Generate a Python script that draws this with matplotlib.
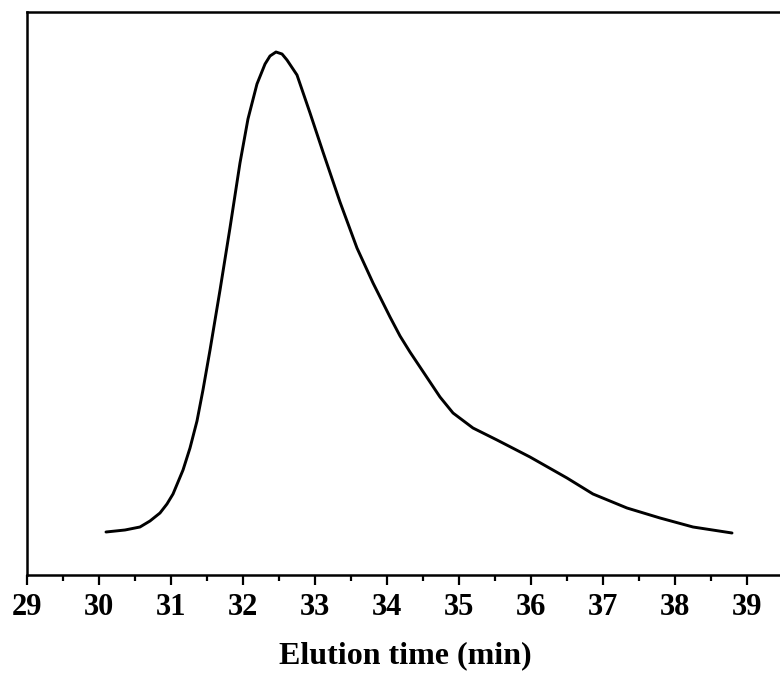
import matplotlib
matplotlib.use("Agg")
import matplotlib.pyplot as plt
from matplotlib.ticker import MultipleLocator

# Elution time (min) and detector response (arbitrary units)
time_min = [30.097, 30.361, 30.569, 30.708, 30.847, 30.944, 31.028, 31.167,
            31.264, 31.361, 31.444, 31.542, 31.681, 31.819, 31.958, 32.069,
            32.194, 32.306, 32.375, 32.458, 32.542, 32.611, 32.750, 32.931,
            33.111, 33.347, 33.583, 33.806, 34.042, 34.181, 34.319, 34.458,
            34.736, 34.917, 35.194, 35.528, 35.986, 36.500, 36.861, 37.333,
            37.792, 38.250, 38.792]
response = [43, 45, 48, 54, 62, 71, 81, 105,
            127, 154, 185, 225, 285, 347, 412, 456,
            491, 511, 519, 523, 521, 515, 500, 462,
            423, 373, 327, 292, 258, 239, 223, 208,
            178, 162, 147, 135, 118, 97, 81, 67,
            57, 48, 42]

xticks = [29, 30, 31, 32, 33, 34, 35, 36, 37, 38, 39]

plt.rcParams['font.family'] = ['Liberation Serif', 'DejaVu Serif']
plt.rcParams['font.weight'] = 'bold'

fig = plt.figure(figsize=(7.8, 6.77), dpi=100)
ax = fig.add_axes([27/780, 1 - 575/677, 756/780, 563/677])
ax.plot(time_min, response, color='black', lw=2.1,
        solid_joinstyle='round', solid_capstyle='round')

ax.set_xlim(29, 39.5)
ax.set_ylim(0, 563)
ax.set_xticks(xticks)
ax.set_xticklabels([str(t) for t in xticks], fontsize=22, fontweight='bold')
ax.xaxis.set_minor_locator(MultipleLocator(0.5))
ax.tick_params(axis='x', which='major', direction='out', length=7, width=1.6, pad=6)
ax.tick_params(axis='x', which='minor', direction='out', length=4, width=1.6)
ax.set_yticks([])
for s in ax.spines.values():
    s.set_linewidth(1.8)
ax.set_xlabel('Elution time (min)', fontsize=23, fontweight='bold', labelpad=14)

fig.savefig('out.png', dpi=100)
